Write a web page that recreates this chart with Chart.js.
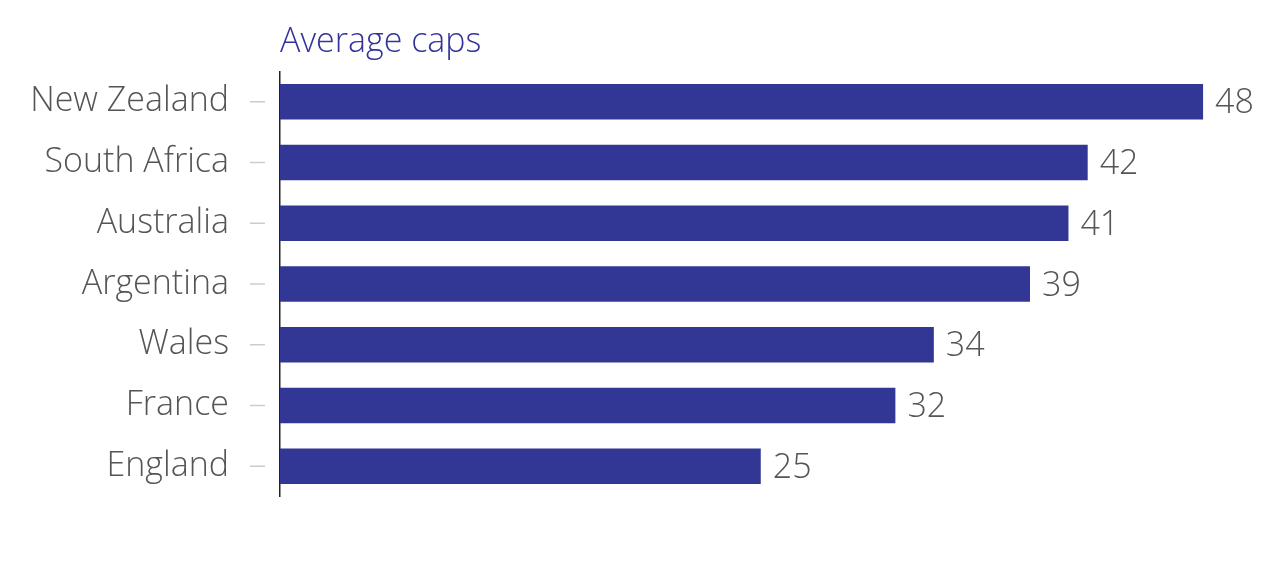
<!DOCTYPE html>
<html>
<head>
<meta charset="utf-8">
<script src="https://cdn.jsdelivr.net/npm/chart.js@4"></script>
<style>
  html, body { margin: 0; padding: 0; background: #fff; }
  #wrap { width: 1280px; height: 568px; position: relative; }
</style>
</head>
<body>
<div id="wrap"><canvas id="chart"></canvas></div>
<script>
const teams = ['New Zealand', 'South Africa', 'Australia', 'Argentina', 'Wales', 'France', 'England'];
const avgCaps = [48, 42, 41, 39, 34, 32, 25];
const titleText = 'Average caps';

const FONT = "'Open Sans', sans-serif";

const extras = {
    id: 'extras',
    afterDatasetsDraw(chart) {
        const ctx = chart.ctx;
        const area = chart.chartArea;
        const y = chart.scales.y;
        ctx.save();
        // title
        ctx.fillStyle = '#333399';
        ctx.font = '300 34px ' + FONT;
        ctx.textAlign = 'left';
        ctx.textBaseline = 'alphabetic';
        ctx.fillText(titleText, area.left, 52);
        // tick dashes
        ctx.strokeStyle = '#cccccc';
        ctx.lineWidth = 1.5;
        teams.forEach((t, i) => {
            const py = y.getPixelForValue(i);
            ctx.beginPath();
            ctx.moveTo(area.left - 30, py);
            ctx.lineTo(area.left - 15, py);
            ctx.stroke();
        });
        // value labels
        ctx.fillStyle = '#555555';
        ctx.font = '300 34px ' + FONT;
        ctx.textBaseline = 'middle';
        chart.getDatasetMeta(0).data.forEach((bar, i) => {
            ctx.fillText(String(avgCaps[i]), bar.x + 12, bar.y + 2);
        });
        ctx.restore();
    }
};

new Chart(document.getElementById('chart'), {
    type: 'bar',
    data: {
        labels: teams,
        datasets: [{
            data: avgCaps,
            backgroundColor: '#323795',
            barPercentage: 0.585,
            categoryPercentage: 1
        }]
    },
    options: {
        indexAxis: 'y',
        responsive: true,
        maintainAspectRatio: false,
        animation: false,
        layout: { padding: { top: 71, bottom: 66, right: 20, left: 0 } },
        plugins: { legend: { display: false }, tooltip: { enabled: false } },
        scales: {
            x: { display: false, min: 0, max: 50.96 },
            y: {
                afterFit: (s) => { s.width = 280; },
                grid: { display: false, drawTicks: false },
                border: { display: true, color: '#222', width: 1.5 },
                ticks: { padding: 51, color: '#555555', font: { family: FONT, size: 34, weight: 300 } }
            }
        }
    },
    plugins: [extras]
});
</script>
</body>
</html>
